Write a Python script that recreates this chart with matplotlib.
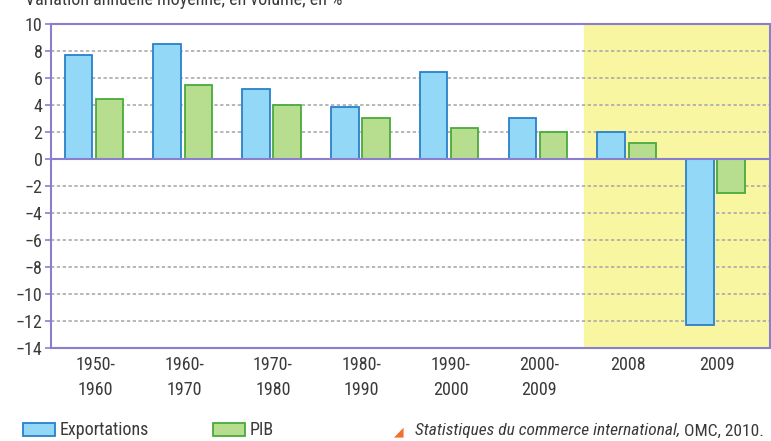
import matplotlib.pyplot as plt
import matplotlib
import numpy as np
from matplotlib.patches import Rectangle

matplotlib.rcParams['font.family'] = ['Roboto Condensed', 'DejaVu Sans Condensed',
                                      'Liberation Sans Narrow', 'Roboto', 'DejaVu Sans']

# data
periodes = ['1950-\n1960', '1960-\n1970', '1970-\n1980', '1980-\n1990',
            '1990-\n2000', '2000-\n2009', '2008', '2009']
exportations = [7.7, 8.5, 5.2, 3.85, 6.4, 3.0, 2.0, -12.3]
pib = [4.4, 5.5, 4.0, 3.0, 2.3, 2.0, 1.2, -2.5]
yticks = list(range(-14, 11, 2))

violet = '#8a7fcf'
txt = '#3a3a3a'
bleu, bleu_bord = '#93d8f6', '#2a80cc'
vert, vert_bord = '#b7de8e', '#4aaa3c'

fig = plt.figure(figsize=(7.71, 4.41), dpi=100)
ax = fig.add_axes([0.066, 0.211, 0.933, 0.735])

x = np.arange(len(periodes))
w = 0.31
ax.axvspan(5.5, 7.6, color='#f8f6a0', zorder=0)

ax.bar(x - 0.19, exportations, w, color=bleu, edgecolor=bleu_bord,
       linewidth=1.3, zorder=3)
ax.bar(x + 0.16, pib, w, color=vert, edgecolor=vert_bord,
       linewidth=1.3, zorder=3)

ax.set_xlim(-0.5, 7.6)
ax.set_ylim(-14, 10)
ax.set_yticks(yticks)
ax.set_yticklabels([str(v).replace('-', '\u2212') for v in yticks],
                   fontsize=13, color=txt)
ax.set_xticks(x)
ax.set_xticklabels(periodes, fontsize=13, color=txt, linespacing=1.5)
ax.tick_params(axis='x', length=0, pad=6)
ax.tick_params(axis='y', length=4, width=1.2, color=violet, pad=2)

for v in yticks:
    if v not in (-14, 0, 10):
        ax.axhline(v, color='#aaaaaa', linestyle=(0, (2, 1.5)), linewidth=1.2, zorder=1)
ax.axhline(0, color=violet, linewidth=1.5, zorder=4)

for s in ax.spines.values():
    s.set_color(violet)
    s.set_linewidth(1.5)

# titre coupé en haut
fig.text(25/771, 1 - 5/441, 'Variation annuelle moyenne, en volume, en %', fontsize=13,
         color=txt, va='baseline')

# légende
H = 441.0
fig.patches.append(Rectangle((23/771, 1 - 436/H), 32/771, 13/H, transform=fig.transFigure,
                             facecolor=bleu, edgecolor=bleu_bord, linewidth=1.3))
fig.text(60/771, 1 - 430/H, 'Exportations', fontsize=13, color=txt, va='center')
fig.patches.append(Rectangle((213/771, 1 - 436/H), 32/771, 13/H, transform=fig.transFigure,
                             facecolor=vert, edgecolor=vert_bord, linewidth=1.3))
fig.text(250/771, 1 - 430/H, 'PIB', fontsize=13, color=txt, va='center')

fig.text(394/771, 1 - 432/H, '\u25e2', fontsize=9, color='#f07030', va='center')
t = fig.text(415/771, 1 - 431/H, 'Statistiques du commerce international,', fontsize=12.5,
             color=txt, va='center', style='italic')
fig.canvas.draw()
bb = t.get_window_extent()
fig.text((bb.x1 + 4) / 771, 1 - 431/H, 'OMC, 2010.', fontsize=12.5, color=txt, va='center')

fig.savefig('out.png', dpi=100)
